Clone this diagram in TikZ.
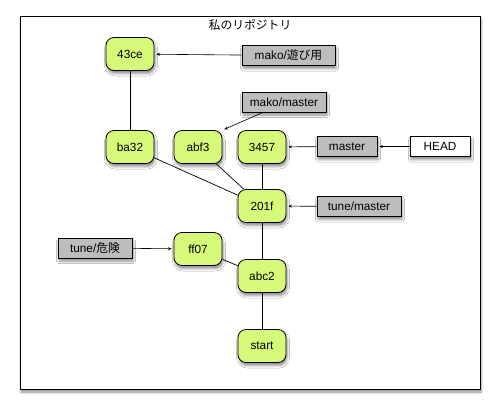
\documentclass[tikz,border=0pt]{standalone}
\usepackage{fontspec}
\setmainfont{Liberation Sans}
\newfontfamily\jpfont{Noto Sans CJK JP}
\usepackage{xcolor}
\usepackage{tikz}
\usetikzlibrary{arrows.meta,positioning,shadows.blur}

\definecolor{commitgreen}{HTML}{D6F97A}
\definecolor{refgray}{HTML}{BDBDBD}

\begin{document}
\begin{tikzpicture}[
  x=1pt, y=-1pt, >={Stealth[length=3.5pt,width=3pt]},
  every node/.style={font=\fontsize{11.8}{14}\selectfont, inner sep=0pt},
  shade/.style={blur shadow={shadow xshift=1pt, shadow yshift=-3pt, shadow blur radius=2.5pt, shadow opacity=45}},
  commit/.style={draw=black, line width=0.8pt, rounded corners=8pt, fill=commitgreen, minimum width=48pt, minimum height=33pt, shade},
  branch/.style={draw=black, line width=0.8pt, fill=refgray, minimum height=20pt, inner xsep=3pt, shade},
  headref/.style={branch, fill=white, minimum width=60pt},
  arrow/.style={->, line width=0.6pt, shorten >=2pt},
  link/.style={line width=0.7pt}
]
\useasboundingbox (0,0) rectangle (501,413);

% frame of the repository
\node[draw=black, line width=1pt, fill=white, minimum width=460pt, minimum height=373pt, shade] (repo) at (250,202.5) {};
\node[below=4pt of repo.north] (title) {\jpfont 私のリポジトリ};

% commits
\node[commit] (c43ce) at (130,54) {43ce};
\node[commit] (ba32) at (130,147) {ba32};
\node[commit] (abf3) at (198,147) {abf3};
\node[commit] (c3457) at (262,147) {3457};
\node[commit] (c201f) at (262,206) {201f};
\node[commit] (ff07) at (198,249) {ff07};
\node[commit] (abc2) at (262,276) {abc2};
\node[commit] (start) at (262,346) {start};

% branches
\node[branch, minimum width=93pt] (makoplay) at (288.5,55.5) {mako/\jpfont 遊び用};
\node[branch, minimum width=84pt] (makomaster) at (284,102) {mako/master};
\node[branch, minimum width=60pt] (master) at (347,146.5) {master};
\node[headref] (head) at (440,146.5) {HEAD};
\node[branch, minimum width=84pt] (tunemaster) at (359,206.5) {tune/master};
\node[branch, minimum width=74pt] (tunedanger) at (95,248) {tune/\jpfont 危険};
\coordinate (mm) at ([xshift=-21pt]makomaster.south);

% history
\draw[link] (c43ce) -- (ba32);
\draw[link] (ba32) -- (c201f);
\draw[link] (abf3) -- (c201f);
\draw[link] (c3457) -- (c201f);
\draw[link] (c201f) -- (abc2);
\draw[link] (ff07) -- (abc2);
\draw[link] (abc2) -- (start);

% refs
\draw[arrow] (makoplay) -- (c43ce);
\draw[arrow] (mm) -- (abf3.north east);
\draw[arrow] (master) -- (c3457);
\draw[arrow] (head) -- (master);
\draw[arrow] (tunemaster) -- (c201f);
\draw[arrow] (tunedanger) -- (ff07);

\end{tikzpicture}
\end{document}
